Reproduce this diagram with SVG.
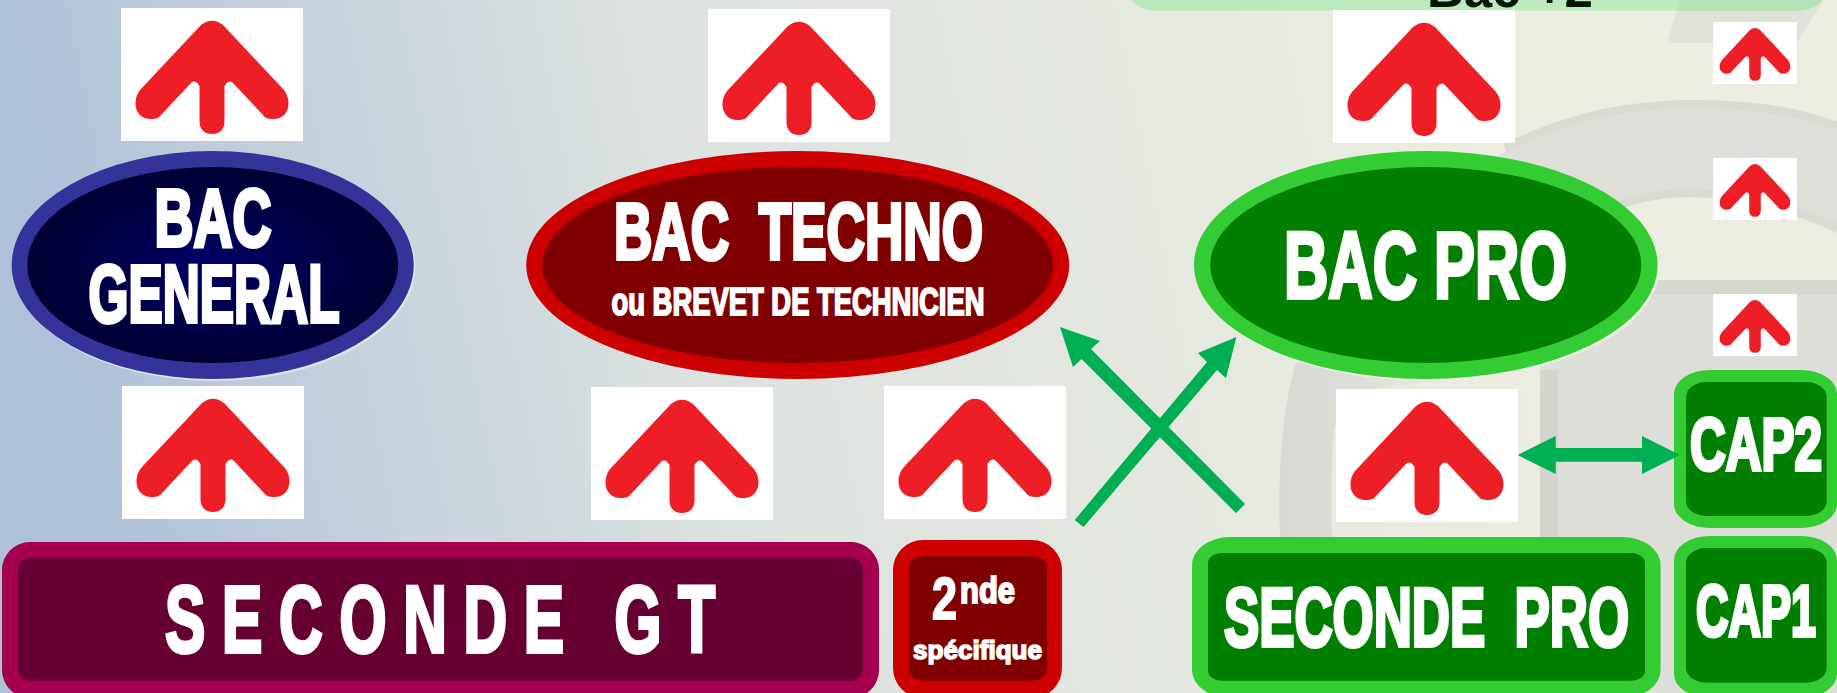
<svg xmlns="http://www.w3.org/2000/svg" width="1837" height="693" viewBox="0 0 1837 693">
<style>
text{font-family:"Liberation Sans",Arial,sans-serif;font-weight:700;fill:#fff;stroke:#fff;stroke-width:4;stroke-linejoin:miter;white-space:pre}
.s{stroke-width:2}
.c{fill:#00AE53}
</style>
<defs>
<linearGradient id="bg" gradientUnits="userSpaceOnUse" x1="0" y1="0" x2="1766" y2="-353">
<stop offset="0" stop-color="#AFC1D9"/><stop offset=".16" stop-color="#C6D2DC"/><stop offset=".27" stop-color="#D2DBDE"/><stop offset=".34" stop-color="#DCE2DF"/><stop offset=".6" stop-color="#E4E8DF"/><stop offset=".8" stop-color="#ECEDE0"/><stop offset="1" stop-color="#ECEDE0"/>
</linearGradient>
<linearGradient id="fade"><stop offset="0" stop-color="#D7DAD2"/><stop offset=".6" stop-color="#DCDFD7"/><stop offset="1" stop-color="#E4E7DE"/></linearGradient>
<radialGradient id="navy"><stop offset="0" stop-color="#000066"/><stop offset="1" stop-color="#000033"/></radialGradient>
<g id="tile">
<rect width="182" height="133" fill="#fff"/>
<path fill="#EE1E26" d="M80,17Q91,8.500 102,17L163,82C171,92 169,111 152,111C147,111 144,110 142,107L112,75Q108,71 103.500,78L103.500,113C103.500,122 98,126 91,126C84,126 78.500,122 78.500,113L78.500,78Q74,71 70,75L40,107C38,110 35,111 30,111C13,111 11,92 19,82Z"/>
</g>
</defs>
<rect id="background" width="1837" height="693" fill="url(#bg)"/>
<g id="backdrop">
<polygon points="1667,43 1680,0 1823,0 1797,43" fill="#E0E1D8"/>
<path d="M1490,160Q1590,100 1693,100Q1780,100 1837,122L1837,233Q1760,197 1690,197Q1640,197 1600,218L1490,260Z" fill="#DEDFD8"/>
<path d="M1505,148Q1590,104 1693,104Q1780,104 1837,126M1837,228Q1760,193 1690,193Q1640,193 1600,214" fill="none" stroke="#D9DAD2" stroke-width="8"/>
<rect x="1540" y="280" width="297" height="413" fill="#DDDED8"/>
<rect x="1540" y="280" width="297" height="15" fill="#D6D8CF"/>
<rect x="1540" y="370" width="18" height="323" fill="#D4D5CE"/>
<path d="M1296,362L1420,362L1420,384Q1345,385 1334,430Q1330,480 1332,537L1280,537Q1276,430 1296,362Z" fill="url(#fade)"/>
</g>
<g id="bac-plus-2">
<rect x="1126" y="-40" width="702" height="50.700" rx="30" ry="25" fill="#65E77C" fill-opacity=".34"/>
<text x="1427" y="7" font-size="51" textLength="166" lengthAdjust="spacingAndGlyphs" style="fill:#001400;stroke:none">Bac +2</text>
</g>
<g id="bac-general">
<ellipse cx="214.500" cy="267" rx="201" ry="114" fill="#DDE3E6"/>
<ellipse cx="212.700" cy="265" rx="201" ry="114" fill="#333399"/>
<ellipse cx="212.700" cy="265" rx="185.500" ry="98" fill="url(#navy)"/>
<text x="154.500" y="246" font-size="81" textLength="117" lengthAdjust="spacingAndGlyphs">BAC</text>
<text x="88.500" y="322" font-size="81" textLength="251" lengthAdjust="spacingAndGlyphs">GENERAL</text>
</g>
<g id="bac-techno">
<ellipse cx="799.500" cy="267" rx="271.500" ry="114" fill="#E4E8E4"/>
<ellipse cx="797.700" cy="265" rx="271.500" ry="114" fill="#CC0000"/>
<ellipse cx="797.700" cy="265" rx="255.500" ry="98" fill="#800000"/>
<text x="614" y="259" font-size="80" textLength="369" lengthAdjust="spacingAndGlyphs">BAC  TECHNO</text>
<text class="s" x="611.500" y="315" font-size="39" textLength="373" lengthAdjust="spacingAndGlyphs">ou BREVET DE TECHNICIEN</text>
</g>
<g id="bac-pro">
<ellipse cx="1427.800" cy="267" rx="231.800" ry="114" fill="#EEF0E8"/>
<ellipse cx="1425.800" cy="265" rx="231.800" ry="114" fill="#33CC33"/>
<ellipse cx="1425.800" cy="265" rx="215.500" ry="98" fill="#007F00"/>
<text x="1284" y="298" font-size="94.500" textLength="283" lengthAdjust="spacingAndGlyphs">BAC PRO</text>
</g>
<g id="seconde-gt">
<rect x="2" y="542" width="877" height="156" rx="28" fill="#A50050"/>
<rect x="18" y="557.700" width="845" height="123" rx="13" ry="12" fill="#660033"/>
<text x="165" y="652" font-size="95" textLength="550" lengthAdjust="spacingAndGlyphs">S E C O N D E   G T</text>
</g>
<g id="seconde-specifique">
<rect x="893" y="540" width="169" height="158" rx="30" fill="#CC0000"/>
<rect x="909" y="556" width="138" height="124.700" rx="16" ry="11" fill="#800000"/>
<text class="s" x="932" y="619" font-size="60" textLength="25" lengthAdjust="spacingAndGlyphs">2</text>
<text class="s" x="960" y="603" font-size="37" textLength="55" lengthAdjust="spacingAndGlyphs">nde</text>
<text class="s" x="913" y="659" font-size="26" textLength="129" lengthAdjust="spacingAndGlyphs" style="stroke-width:1.500">spécifique</text>
</g>
<g id="seconde-pro">
<rect x="1192" y="537" width="468.600" height="161" rx="38" ry="28" fill="#33CC33"/>
<rect x="1208" y="553" width="437" height="127.700" rx="14" ry="10" fill="#007F00"/>
<text x="1224" y="646" font-size="83" textLength="405" lengthAdjust="spacingAndGlyphs">SECONDE  PRO</text>
</g>
<g id="cap2">
<rect x="1674" y="370" width="163" height="158" rx="36" ry="24" fill="#33CC33"/>
<rect x="1686" y="382" width="140.700" height="134" rx="20" ry="15" fill="#007F00"/>
<text x="1690" y="470" font-size="74" textLength="132" lengthAdjust="spacingAndGlyphs">CAP2</text>
</g>
<g id="cap1">
<rect x="1674" y="536" width="163" height="162" rx="36" ry="24" fill="#33CC33"/>
<rect x="1686" y="548" width="140.700" height="134.700" rx="20" ry="15" fill="#007F00"/>
<text x="1696" y="636" font-size="73" textLength="120" lengthAdjust="spacingAndGlyphs">CAP1</text>
</g>
<g id="connectors">
<use href="#tile" x="121" y="8"/>
<use href="#tile" x="708" y="9"/>
<use href="#tile" transform="translate(1333 10)"/>
<use href="#tile" transform="translate(1713 22) scale(.4615 .466)"/>
<use href="#tile" transform="translate(1713 158) scale(.4615 .466)"/>
<use href="#tile" transform="translate(1713 294) scale(.4615 .466)"/>
<use href="#tile" x="122" y="386"/>
<use href="#tile" x="591" y="387"/>
<use href="#tile" x="884" y="386"/>
<use href="#tile" x="1336" y="389"/>
<polygon class="c" points="1060,327 1100,341 1091,349 1245,504 1236,513 1081.600,359 1073,367"/>
<polygon class="c" points="1236.400,337 1226,378 1217,370 1083.500,527 1074.700,520 1207,362 1198,353"/>
<polygon class="c" points="1517.700,455 1555.700,436 1555.700,448 1642,448 1642,436 1680,455 1642,474 1642,461.700 1555.700,461.700 1555.700,474"/>
</g>
</svg>
